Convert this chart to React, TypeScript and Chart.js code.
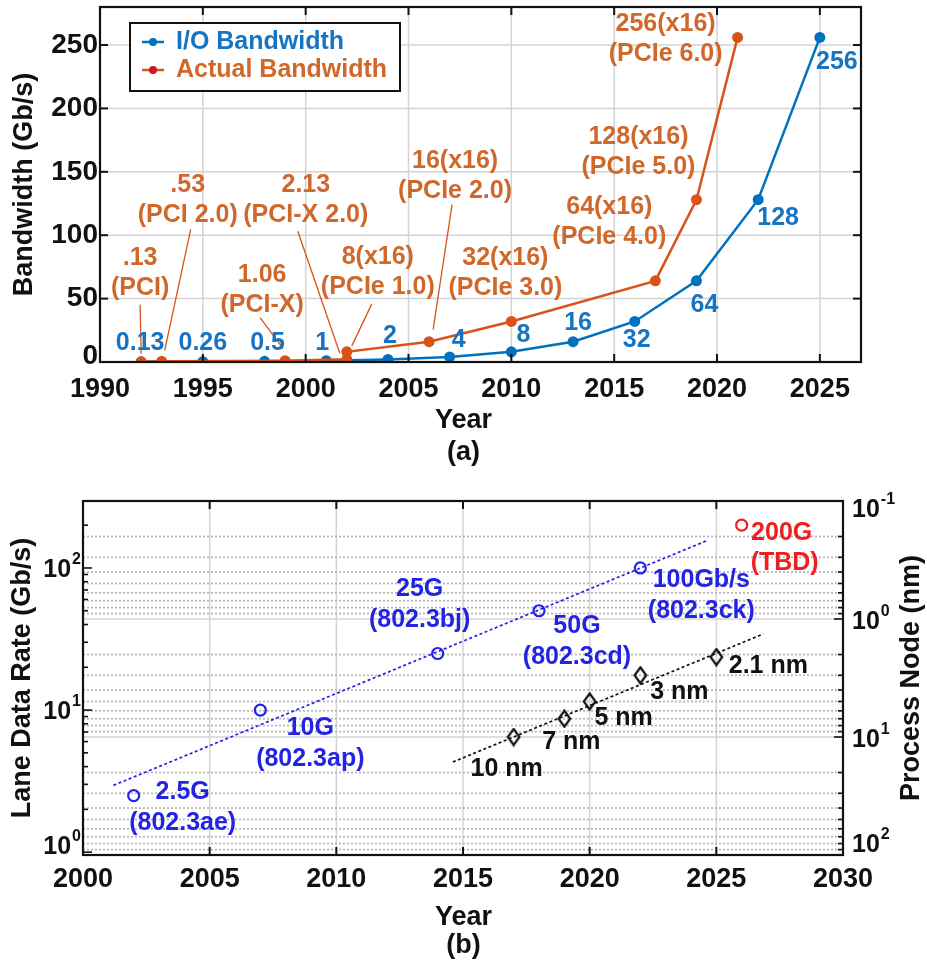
import React, { useEffect, useRef } from 'react';
import { Chart, registerables } from 'chart.js';

Chart.register(...registerables);

const FAMILY = '"Liberation Sans", Arial, Helvetica, sans-serif';

// ---------------- (a) data ----------------
const ioYears = [1992, 1995, 1998, 2001, 2004, 2007, 2010, 2013, 2016, 2019, 2022, 2025];
const ioBandwidth = [0.13, 0.26, 0.5, 1, 2, 4, 8, 16, 32, 64, 128, 256];
const ioLabels = ['0.13', '0.26', '0.5', '1', '2', '4', '8', '16', '32', '64', '128', '256'];

const actualYears = [1992, 1993, 1999, 2002, 2002, 2006, 2010, 2017, 2019, 2021];
const actualBandwidth = [0.13, 0.53, 1.06, 2.13, 8, 16, 32, 64, 128, 256];
const actualValueLabels = ['.13', '.53', '1.06', '2.13', '8(x16)', '16(x16)', '32(x16)', '64(x16)', '128(x16)', '256(x16)'];
const actualBusLabels = ['(PCI)', '(PCI 2.0)', '(PCI-X)', '(PCI-X 2.0)', '(PCIe 1.0)', '(PCIe 2.0)', '(PCIe 3.0)', '(PCIe 4.0)', '(PCIe 5.0)', '(PCIe 6.0)'];

const yearTicksA = [1990, 1995, 2000, 2005, 2010, 2015, 2020, 2025];
const bandwidthTicks = [0, 50, 100, 150, 200, 250];

// ---------------- (b) data ----------------
const laneYears = [2002, 2007, 2014, 2018, 2022];
const laneRates = [2.5, 10, 25, 50, 100];
const laneNames = ['2.5G', '10G', '25G', '50G', '100Gb/s'];
const laneStandards = ['(802.3ae)', '(802.3ap)', '(802.3bj)', '(802.3cd)', '(802.3ck)'];

const futureYears = [2026];
const futureRates = [200];
const futureNames = ['200G'];
const futureStandards = ['(TBD)'];

const laneTrendYears = [2001.2, 2024.6];
const laneTrendRates = [2.95, 155];

const nodeYears = [2017, 2019, 2020, 2022, 2025];
const nodeSizes = [10, 7, 5, 3, 2.1];
const nodeLabels = ['10 nm', '7 nm', '5 nm', '3 nm', '2.1 nm'];

const nodeTrendYears = [2014.6, 2026.85];
const nodeTrendSizes = [16.3, 1.34];

const yearTicksB = [2000, 2005, 2010, 2015, 2020, 2025, 2030];
const rateDecades = [1, 10, 100];
const nodeDecades = [0.1, 1, 10, 100];
const decadeExponents: Record<string, string> = { '0.1': '-1', '1': '0', '10': '1', '100': '2' };

// ---------------- layout (pixel offsets of annotations) ----------------
const ioLabelOffsets = [[-1, -19], [0, -19], [3, -18], [-4, -18], [2, -23], [9, -17], [12, -17], [5, -19], [2, 19], [8, 24], [20, 18], [17, 25]];
// [textDx, textDy(first line), leader x1, y1, x2, y2] relative to point
const actualLabelOffsets: (number[] | null)[] = [
  [-1, -104, -1, -57, 0, -8],
  [26, -176, 29, -132, 3, -11],
  [-23, -86, -25, -43, -2, -12],
  [-41, -174, -49, -128, -7, -6],
  [31, -95, 25, -48, 5, -6],
  [26, -181, 23, -137, 4, -12],
  [-6, -63],
  [-46, -74],
  [-58, -63],
  [-72, -13],
];
const laneLabelOffsets = [[49, -4], [50, 18], [-18, -64], [38, 15], [61, 12]];
const futureLabelOffsets = [[40, 8]];
const nodeLabelOffsets = [[-7, 32], [7, 23], [34, 17], [39, 17], [52, 9]];

// ---------------- colours ----------------
const IO_BLUE = '#0072BD';
const IO_TEXT = '#1674C2';
const ACT_ORANGE = '#D95319';
const ACT_TEXT = '#D0672B';
const LEG_RED = '#C81A1E';
const LANE_BLUE = '#2323E4';
const FUT_RED = '#F01E1E';
const GRID = '#d3d3d3';

function txt(ctx: any, s: string, x: number, y: number, size: number, color: string, align: CanvasTextAlign = 'center', rot = 0) {
  ctx.save();
  ctx.font = `bold ${size}px ${FAMILY}`;
  ctx.fillStyle = color;
  ctx.textAlign = align;
  ctx.textBaseline = 'middle';
  ctx.translate(x, y);
  if (rot) ctx.rotate(rot);
  ctx.fillText(s, 0, 0);
  ctx.restore();
}

function seg(ctx: any, x1: number, y1: number, x2: number, y2: number) {
  ctx.beginPath();
  ctx.moveTo(x1, y1);
  ctx.lineTo(x2, y2);
  ctx.stroke();
}

function pow10(ctx: any, exp: string, x: number, y: number, align: 'left' | 'right') {
  ctx.save();
  ctx.font = `bold 25px ${FAMILY}`;
  const bw = ctx.measureText('10').width;
  ctx.font = `bold 16px ${FAMILY}`;
  const sw = ctx.measureText(exp).width;
  const start = align === 'left' ? x : x - bw - sw - 1;
  ctx.fillStyle = '#111';
  ctx.textAlign = 'left';
  ctx.textBaseline = 'middle';
  ctx.font = `bold 25px ${FAMILY}`;
  ctx.fillText('10', start, y);
  ctx.font = `bold 16px ${FAMILY}`;
  ctx.fillText(exp, start + bw + 1, y - 10);
  ctx.restore();
}

const panelAPlugin = {
  id: 'panelA',
  beforeDatasetsDraw(chart: any) {
    const { ctx, chartArea: a, scales } = chart;
    const x = scales.x, y = scales.y;
    ctx.save();
    ctx.strokeStyle = GRID;
    ctx.lineWidth = 1.5;
    for (const t of yearTicksA) {
      const px = x.getPixelForValue(t);
      if (px <= a.left + 1 || px >= a.right - 1) continue;
      seg(ctx, px, a.top, px, a.bottom);
    }
    for (const t of bandwidthTicks) {
      const py = y.getPixelForValue(t);
      if (py <= a.top + 1 || py >= a.bottom - 1) continue;
      seg(ctx, a.left, py, a.right, py);
    }
    ctx.restore();
  },
  afterDatasetsDraw(chart: any) {
    const { ctx, chartArea: a, scales } = chart;
    const x = scales.x, y = scales.y;
    ctx.save();
    // ticks
    ctx.strokeStyle = '#111';
    ctx.lineWidth = 2;
    for (const t of yearTicksA) {
      const px = x.getPixelForValue(t);
      if (px <= a.left + 1 || px >= a.right - 1) continue;
      seg(ctx, px, a.bottom, px, a.bottom - 8);
      seg(ctx, px, a.top, px, a.top + 8);
    }
    for (const t of bandwidthTicks) {
      const py = y.getPixelForValue(t);
      if (py <= a.top + 1 || py >= a.bottom - 1) continue;
      seg(ctx, a.left, py, a.left + 8, py);
      seg(ctx, a.right, py, a.right - 8, py);
    }
    ctx.lineWidth = 2.2;
    ctx.strokeRect(a.left, a.top, a.right - a.left, a.bottom - a.top);
    // tick labels
    for (const t of yearTicksA) {
      txt(ctx, String(t), x.getPixelForValue(t), a.bottom + 28, 27, '#111');
    }
    for (const t of bandwidthTicks) {
      const py = Math.min(y.getPixelForValue(t), a.bottom - 6);
      txt(ctx, String(t), a.left - 2, py, 28, '#111', 'right');
    }
    // axis titles
    const cw = chart.width;
    txt(ctx, 'Year', cw / 2, a.bottom + 59, 27, '#111');
    txt(ctx, '(a)', cw / 2, a.bottom + 91, 27, '#111');
    txt(ctx, 'Bandwidth (Gb/s)', 25, (a.top + a.bottom) / 2, 27, '#111', 'center', -Math.PI / 2);

    // actual bandwidth annotations
    ctx.strokeStyle = ACT_ORANGE;
    ctx.lineWidth = 1.3;
    actualYears.forEach((yr, i) => {
      const px = x.getPixelForValue(yr);
      const py = y.getPixelForValue(actualBandwidth[i]);
      const o = actualLabelOffsets[i];
      if (!o) return;
      txt(ctx, actualValueLabels[i], px + o[0], py + o[1], 25, ACT_TEXT);
      txt(ctx, actualBusLabels[i], px + o[0], py + o[1] + 30, 25, ACT_TEXT);
      if (o.length > 2) seg(ctx, px + o[2], py + o[3], px + o[4], py + o[5]);
    });
    // io bandwidth labels
    ioYears.forEach((yr, i) => {
      const px = x.getPixelForValue(yr);
      const py = y.getPixelForValue(ioBandwidth[i]);
      const o = ioLabelOffsets[i];
      txt(ctx, ioLabels[i], px + o[0], py + o[1], 25, IO_TEXT);
    });

    // legend
    const lx = a.left + 30, ly = a.top + 16, lw = 270, lh = 68;
    ctx.fillStyle = '#fff';
    ctx.fillRect(lx, ly, lw, lh);
    ctx.strokeStyle = '#111';
    ctx.lineWidth = 2;
    ctx.strokeRect(lx, ly, lw, lh);
    const entries = [
      { label: 'I/O Bandwidth', line: IO_BLUE, dot: IO_BLUE, text: IO_TEXT, yy: ly + 19 },
      { label: 'Actual Bandwidth', line: ACT_ORANGE, dot: LEG_RED, text: ACT_TEXT, yy: ly + 47 },
    ];
    for (const e of entries) {
      ctx.strokeStyle = e.line;
      ctx.lineWidth = 2.5;
      seg(ctx, lx + 12, e.yy, lx + 34, e.yy);
      ctx.fillStyle = e.dot;
      ctx.beginPath();
      ctx.arc(lx + 23, e.yy, 4, 0, Math.PI * 2);
      ctx.fill();
      txt(ctx, e.label, lx + 46, e.yy, 25, e.text, 'left');
    }
    ctx.restore();
  },
};

const panelBPlugin = {
  id: 'panelB',
  beforeDatasetsDraw(chart: any) {
    const { ctx, chartArea: a, scales } = chart;
    const x = scales.x, y1 = scales.y1;
    ctx.save();
    ctx.strokeStyle = GRID;
    ctx.lineWidth = 1.5;
    for (const t of yearTicksB) {
      const px = x.getPixelForValue(t);
      if (px <= a.left + 1 || px >= a.right - 1) continue;
      seg(ctx, px, a.top, px, a.bottom);
    }
    for (const d of nodeDecades) {
      for (let m = 1; m <= 9; m++) {
        const v = d * m;
        const py = y1.getPixelForValue(v);
        if (py <= a.top + 1 || py >= a.bottom - 1) continue;
        if (m === 1) {
          ctx.setLineDash([]);
          ctx.strokeStyle = GRID;
          ctx.lineWidth = 1.5;
        } else {
          ctx.setLineDash([2, 2]);
          ctx.strokeStyle = '#b4b4b4';
          ctx.lineWidth = 1.7;
        }
        seg(ctx, a.left, py, a.right, py);
      }
    }
    ctx.restore();
  },
  afterDatasetsDraw(chart: any) {
    const { ctx, chartArea: a, scales } = chart;
    const x = scales.x, y = scales.y, y1 = scales.y1;
    ctx.save();
    ctx.strokeStyle = '#111';
    ctx.lineWidth = 2;
    for (const t of yearTicksB) {
      const px = x.getPixelForValue(t);
      if (px <= a.left + 1 || px >= a.right - 1) continue;
      seg(ctx, px, a.bottom, px, a.bottom - 8);
      seg(ctx, px, a.top, px, a.top + 8);
    }
    ctx.lineWidth = 1.6;
    for (const d of rateDecades) {
      for (let m = 1; m <= 9; m++) {
        const py = y.getPixelForValue(d * m);
        if (py <= a.top + 1 || py >= a.bottom - 1) continue;
        seg(ctx, a.left, py, a.left + (m === 1 ? 9 : 5), py);
      }
    }
    for (const d of nodeDecades) {
      for (let m = 1; m <= 9; m++) {
        const py = y1.getPixelForValue(d * m);
        if (py <= a.top + 1 || py >= a.bottom - 1) continue;
        seg(ctx, a.right, py, a.right - (m === 1 ? 9 : 5), py);
      }
    }
    ctx.lineWidth = 2.2;
    ctx.strokeRect(a.left, a.top, a.right - a.left, a.bottom - a.top);

    for (const t of yearTicksB) {
      txt(ctx, String(t), x.getPixelForValue(t), a.bottom + 25, 27, '#111');
    }
    for (const d of rateDecades) {
      const py = Math.max(Math.min(y.getPixelForValue(d) + 2, a.bottom - 8), a.top + 9);
      pow10(ctx, decadeExponents[String(d)], a.left - 2, py, 'right');
    }
    for (const d of nodeDecades) {
      const py = Math.max(Math.min(y1.getPixelForValue(d) + 3, a.bottom - 10), a.top + 9);
      pow10(ctx, decadeExponents[String(d)], a.right + 9, py, 'left');
    }
    const cw = chart.width;
    const mid = (a.top + a.bottom) / 2;
    txt(ctx, 'Year', cw / 2, a.bottom + 63, 27, '#111');
    txt(ctx, '(b)', cw / 2, a.bottom + 91, 27, '#111');
    txt(ctx, 'Lane Data Rate (Gb/s)', 23, mid, 27, '#111', 'center', -Math.PI / 2);
    txt(ctx, 'Process Node (nm)', 912, mid, 27, '#111', 'center', -Math.PI / 2);

    laneYears.forEach((yr, i) => {
      const px = x.getPixelForValue(yr);
      const py = y.getPixelForValue(laneRates[i]);
      const o = laneLabelOffsets[i];
      txt(ctx, laneNames[i], px + o[0], py + o[1], 25, LANE_BLUE);
      txt(ctx, laneStandards[i], px + o[0], py + o[1] + 31, 25, LANE_BLUE);
    });
    futureYears.forEach((yr, i) => {
      const px = x.getPixelForValue(yr);
      const py = y.getPixelForValue(futureRates[i]);
      const o = futureLabelOffsets[i];
      txt(ctx, futureNames[i], px + o[0], py + o[1], 25, FUT_RED);
      txt(ctx, futureStandards[i], px + o[0] + 3, py + o[1] + 30, 25, FUT_RED);
    });
    nodeYears.forEach((yr, i) => {
      const px = x.getPixelForValue(yr);
      const py = y1.getPixelForValue(nodeSizes[i]);
      const o = nodeLabelOffsets[i];
      txt(ctx, nodeLabels[i], px + o[0], py + o[1], 25, '#111');
    });
    ctx.restore();
  },
};

function makeDiamond(): HTMLCanvasElement {
  const c = document.createElement('canvas');
  c.width = 15;
  c.height = 19;
  const g = c.getContext('2d') as CanvasRenderingContext2D;
  g.strokeStyle = '#111';
  g.lineWidth = 2.2;
  g.beginPath();
  g.moveTo(7.5, 1.5);
  g.lineTo(13.3, 9.5);
  g.lineTo(7.5, 17.5);
  g.lineTo(1.7, 9.5);
  g.closePath();
  g.stroke();
  return c;
}

export default function App() {
  const refA = useRef<HTMLCanvasElement>(null);
  const refB = useRef<HTMLCanvasElement>(null);

  useEffect(() => {
    document.body.style.margin = '0';
    const chartA = new Chart(refA.current as HTMLCanvasElement, {
      type: 'scatter',
      data: {
        datasets: [
          {
            label: 'Actual Bandwidth',
            data: actualYears.map((yr, i) => ({ x: yr, y: actualBandwidth[i] })),
            showLine: true,
            borderColor: ACT_ORANGE,
            backgroundColor: ACT_ORANGE,
            borderWidth: 2.5,
            pointRadius: 5.5,
            pointBorderWidth: 0,
            order: 0,
          },
          {
            label: 'I/O Bandwidth',
            data: ioYears.map((yr, i) => ({ x: yr, y: ioBandwidth[i] })),
            showLine: true,
            borderColor: IO_BLUE,
            backgroundColor: IO_BLUE,
            borderWidth: 2.5,
            pointRadius: 5.5,
            pointBorderWidth: 0,
            order: 1,
          },
        ],
      },
      options: {
        responsive: false,
        animation: false,
        layout: { padding: { left: 100, right: 66, top: 7, bottom: 108 } },
        plugins: { legend: { display: false }, tooltip: { enabled: false } },
        scales: {
          x: { type: 'linear', min: 1990, max: 2027, display: false },
          y: { type: 'linear', min: 0, max: 280, display: false },
        },
      },
      plugins: [panelAPlugin],
    } as any);

    const diamond = makeDiamond();
    const chartB = new Chart(refB.current as HTMLCanvasElement, {
      type: 'scatter',
      data: {
        datasets: [
          {
            label: 'Lane trend',
            data: laneTrendYears.map((yr, i) => ({ x: yr, y: laneTrendRates[i] })),
            showLine: true,
            borderColor: LANE_BLUE,
            borderWidth: 1.7,
            borderDash: [3, 2.5],
            pointRadius: 0,
            yAxisID: 'y',
          },
          {
            label: 'Node trend',
            data: nodeTrendYears.map((yr, i) => ({ x: yr, y: nodeTrendSizes[i] })),
            showLine: true,
            borderColor: '#111',
            borderWidth: 1.7,
            borderDash: [3, 2.5],
            pointRadius: 0,
            yAxisID: 'y1',
          },
          {
            label: 'Lane data rate',
            data: laneYears.map((yr, i) => ({ x: yr, y: laneRates[i] })),
            showLine: false,
            pointStyle: 'circle',
            pointRadius: 5.5,
            pointBorderWidth: 2.2,
            borderColor: LANE_BLUE,
            backgroundColor: 'rgba(0,0,0,0)',
            yAxisID: 'y',
          },
          {
            label: 'Future',
            data: futureYears.map((yr, i) => ({ x: yr, y: futureRates[i] })),
            showLine: false,
            pointStyle: 'circle',
            pointRadius: 5.5,
            pointBorderWidth: 2.2,
            borderColor: FUT_RED,
            backgroundColor: 'rgba(0,0,0,0)',
            yAxisID: 'y',
          },
          {
            label: 'Process node',
            data: nodeYears.map((yr, i) => ({ x: yr, y: nodeSizes[i] })),
            showLine: false,
            pointStyle: diamond,
            pointRadius: 7,
            borderColor: '#111',
            backgroundColor: 'rgba(0,0,0,0)',
            yAxisID: 'y1',
          },
        ],
      },
      options: {
        responsive: false,
        animation: false,
        layout: { padding: { left: 83, right: 84, top: 31, bottom: 111 } },
        plugins: { legend: { display: false }, tooltip: { enabled: false } },
        scales: {
          x: { type: 'linear', min: 2000, max: 2030, display: false },
          y: { type: 'logarithmic', min: 0.955, max: 296, display: false },
          y1: { type: 'logarithmic', min: 0.1, max: 100, reverse: true, position: 'right', display: false },
        },
      },
      plugins: [panelBPlugin],
    } as any);

    return () => {
      chartA.destroy();
      chartB.destroy();
    };
  }, []);

  return (
    <div style={{ position: 'absolute', left: 0, top: 0, width: 927, height: 966, background: '#fff' }}>
      <canvas ref={refA} width={927} height={470} style={{ display: 'block', width: 927, height: 470 }} />
      <canvas ref={refB} width={927} height={496} style={{ display: 'block', width: 927, height: 496 }} />
    </div>
  );
}
